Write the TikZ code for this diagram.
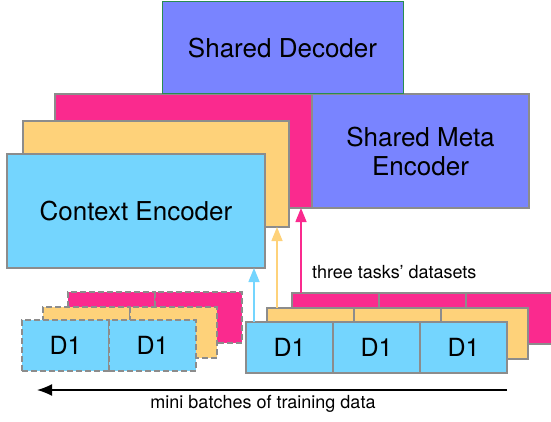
\documentclass[tikz,border=0pt]{standalone}
\usepackage{fontspec}
\setmainfont{TeX Gyre Heros}
\usetikzlibrary{arrows.meta}

\definecolor{ctxblue}{RGB}{116,213,254}
\definecolor{encorange}{RGB}{254,210,122}
\definecolor{encpink}{RGB}{250,42,142}
\definecolor{metablue}{RGB}{121,132,255}
\definecolor{decgreen}{RGB}{40,140,80}
\definecolor{bordergrey}{RGB}{140,140,140}

\tikzset{
    box/.style={draw=bordergrey, line width=1.5pt, inner sep=0pt, outer sep=0pt,
        anchor=north west, align=center, font=\fontsize{26}{29}\selectfont},
    cell/.style={box, minimum width=87pt, minimum height=51pt,
        font=\fontsize{25}{28}\selectfont},
    ghost/.style={dash pattern=on 6pt off 3pt},
    feed/.style={line width=1.5pt, -{Triangle[length=14pt,width=11pt]}},
    lbl/.style={font=\fontsize{18}{20}\selectfont, inner sep=0pt}
}

\begin{document}
\begin{tikzpicture}[x=1pt, y=-1pt]
    \useasboundingbox (0,0) rectangle (551,422);

    % Encoders
    \node[box, fill=encpink, minimum width=257pt, minimum height=114pt] (penc) at (55,94) {};
    \node[box, fill=metablue, minimum width=217pt, minimum height=114pt] (meta) at (312,94) {Shared Meta\\Encoder};
    \node[box, fill=metablue, draw=decgreen, line width=1pt, minimum width=241pt, minimum height=92pt] (dec) at (162,2) {Shared Decoder};
    \node[box, fill=encorange, minimum width=266pt, minimum height=106pt] (oenc) at (23,121) {};
    \node[box, fill=ctxblue, minimum width=258pt, minimum height=114pt] (ctx) at (7,154) {Context Encoder};

    % Datasets of the three tasks
    \foreach \i in {1,2,3}
        \node[cell, fill=encpink] (pd\i) at ({292+87*(\i-1)},293) {};
    \foreach \i in {1,2,3}
        \node[cell, fill=encorange] (od\i) at ({267+87*(\i-1)},308) {};
    \foreach \i in {1,2,3}
        \node[cell, fill=ctxblue] (bd\i) at ({246+87*(\i-1)},322) {D1};

    % Mini batches already used
    \foreach \i in {1,2}
        \node[cell, ghost, fill=encpink] (pm\i) at ({68+87*(\i-1)},292) {};
    \foreach \i in {1,2}
        \node[cell, ghost, fill=encorange] (om\i) at ({43+87*(\i-1)},307) {};
    \foreach \i in {1,2}
        \node[cell, ghost, fill=ctxblue] (bm\i) at ({22+87*(\i-1)},320) {D1};

    % Feeding arrows
    \coordinate (bfoot) at ([xshift=8pt]bd1.north west);
    \coordinate (ofoot) at ([xshift=10pt]od1.north west);
    \coordinate (pfoot) at ([xshift=9pt]pd1.north west);
    \draw[feed, ctxblue] (bfoot) -- (bfoot |- ctx.south);
    \draw[feed, encorange] (ofoot) -- (ofoot |- oenc.south);
    \draw[feed, encpink] (pfoot) -- (pfoot |- penc.south);
    \node[lbl, anchor=west] (tasks) at (312,272) {three tasks’ datasets};

    % Order of the mini batches
    \coordinate (mbstart) at (507,390);
    \coordinate (mbend) at (37,390);
    \draw[line width=1.5pt, -{Latex[length=15pt,width=12pt]}] (mbstart) -- (mbend);
    \node[lbl] (mbtext) at (263,404) {mini batches of training data};
\end{tikzpicture}
\end{document}
